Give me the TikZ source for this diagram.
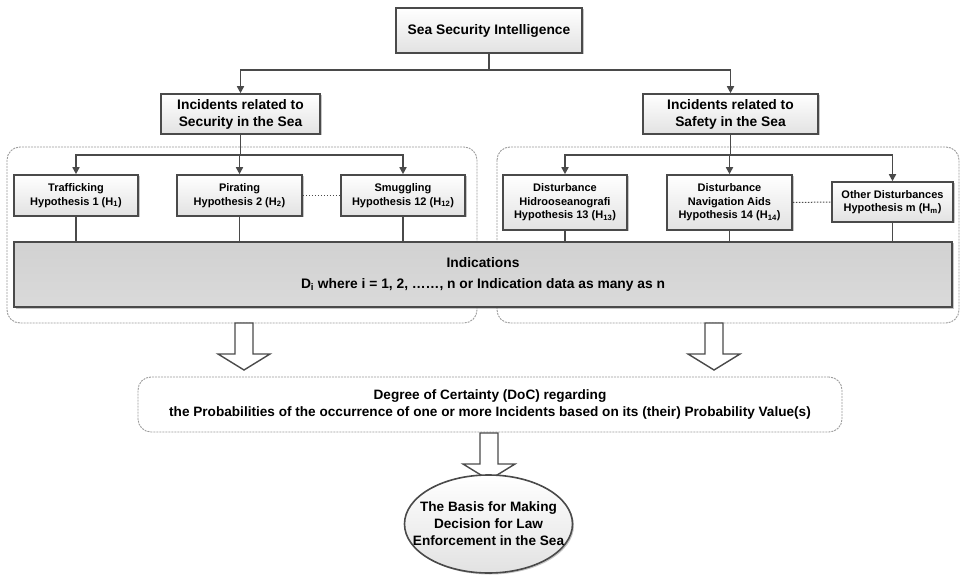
\documentclass[tikz,border=0pt]{standalone}
\usepackage{fontspec}
\setmainfont{Liberation Sans}
\usetikzlibrary{arrows.meta,shadows,shapes.geometric}

\definecolor{boxline}{HTML}{4A4A4A}
\definecolor{boxfill}{HTML}{E2E2E2}
\definecolor{grouped}{HTML}{9A9A9A}
\definecolor{indfill}{HTML}{C6C6C6}

\begin{document}
\begin{tikzpicture}[x=1pt,y=-1pt,
  shade/.style={drop shadow={shadow xshift=1.5pt,shadow yshift=-1.5pt,opacity=.45}},
  box/.style={draw=boxline,line width=1.6pt,top color=white,bottom color=boxfill,
    align=center,inner sep=1pt,shade},
  mainbox/.style={box,font=\bfseries\fontsize{13.8}{17}\selectfont},
  hypbox/.style={box,font=\bfseries\fontsize{11}{13.5}\selectfont},
  group/.style={draw=grouped,dashed,dash pattern=on 2pt off 1pt,line width=0.9pt,rounded corners=13pt},
  link/.style={draw=boxline,line width=1.6pt},
  arr/.style={link,-{Triangle[width=7pt,length=7pt]}},
  dots/.style={draw=boxline,line width=1pt,dash pattern=on 1.5pt off 1.5pt},
  bigarrow/.pic={\draw[fill=white,draw=boxline,line width=1.4pt]
      (-9,0) -- (9,0) -- (9,31) -- (26,31) -- (0,47) -- (-26,31) -- (-9,31) -- cycle;}
]
\useasboundingbox (0,0) rectangle (963,577);

% dashed groups for the two incident families
\draw[group] (7,147) rectangle (477,323);
\draw[group] (497,147) rectangle (959,323);

% top level
\node[mainbox,minimum width=186pt,minimum height=45pt] (top) at (489,30.5) {Sea Security Intelligence};
\node[mainbox,minimum width=159pt,minimum height=40pt] (secL) at (240.5,114) {Incidents related to\\Security in the Sea};
\node[mainbox,minimum width=175pt,minimum height=40pt] (secR) at (730.5,114) {Incidents related to\\Safety in the Sea};

\coordinate (j0) at (489,70);
\draw[link] (top.south) -- (j0);
\draw[arr] (j0) -| (secL.north);
\draw[arr] (j0) -| (secR.north);

% hypotheses
\node[hypbox,minimum width=124pt,minimum height=41pt] (h1) at (76,195.5) {Trafficking\\Hypothesis 1 (H\textsubscript{1})};
\node[hypbox,minimum width=125pt,minimum height=41pt] (h2) at (239.5,195.5) {Pirating\\Hypothesis 2 (H\textsubscript{2})};
\node[hypbox,minimum width=124pt,minimum height=41pt] (h12) at (403,195.5) {Smuggling\\Hypothesis 12 (H\textsubscript{12})};
\node[hypbox,minimum width=124pt,minimum height=55pt] (h13) at (565,202.5) {Disturbance\\Hidrooseanografi\\Hypothesis 13 (H\textsubscript{13})};
\node[hypbox,minimum width=125pt,minimum height=55pt] (h14) at (729.5,202.5) {Disturbance\\Navigation Aids\\Hypothesis 14 (H\textsubscript{14})};
\node[hypbox,minimum width=121pt,minimum height=40pt] (hm) at (892.5,202) {Other Disturbances\\Hypothesis m (H\textsubscript{m})};

\draw[dots] (h2.east) -- (h12.west);
\draw[dots] (h14.east) -- (hm.west);

\coordinate (jL) at (240.5,155);
\coordinate (jR) at (730.5,155);
\draw[link] (secL.south) -- (jL);
\draw[link] (secR.south) -- (jR);
\draw[arr] (jL) -| (h1.north);
\draw[arr] (jL) -| (h2.north);
\draw[arr] (jL) -| (h12.north);
\draw[arr] (jR) -| (h13.north);
\draw[arr] (jR) -| (h14.north);
\draw[arr] (jR) -| (hm.north);

% indications
\node[draw=boxline,line width=1.6pt,top color=indfill!80,bottom color=indfill!110!black,
  minimum width=938pt,minimum height=65pt,
  align=center,font=\bfseries\fontsize{13.8}{21}\selectfont,shade] (ind) at (483,274.5)
  {Indications\\D\textsubscript{i} where i = 1, 2, \dots\dots, n or Indication data as many as n};

\foreach \h in {h1,h2,h12,h13,h14,hm}
  \draw[link] (\h.south) -- (\h.south |- ind.north);

% degree of certainty
\node[group,minimum width=704pt,minimum height=55pt,align=center,
  font=\bfseries\fontsize{13.6}{16.5}\selectfont] (doc) at (490,404.5)
  {Degree of Certainty (DoC) regarding\\the Probabilities of the occurrence of one or more Incidents based on its (their) Probability Value(s)};

\pic at (244,323) {bigarrow};
\pic at (714,323) {bigarrow};
\pic at (489,433) {bigarrow};

% decision
\node[ellipse,draw=boxline,line width=1.6pt,top color=white,bottom color=boxfill,shade,
  minimum width=168pt,minimum height=98pt,inner xsep=-18pt,inner ysep=8pt,align=center,
  font=\bfseries\fontsize{13.6}{17}\selectfont] (basis) at (488.5,524)
  {The Basis for Making\\Decision for Law\\Enforcement in the Sea};
\end{tikzpicture}
\end{document}
